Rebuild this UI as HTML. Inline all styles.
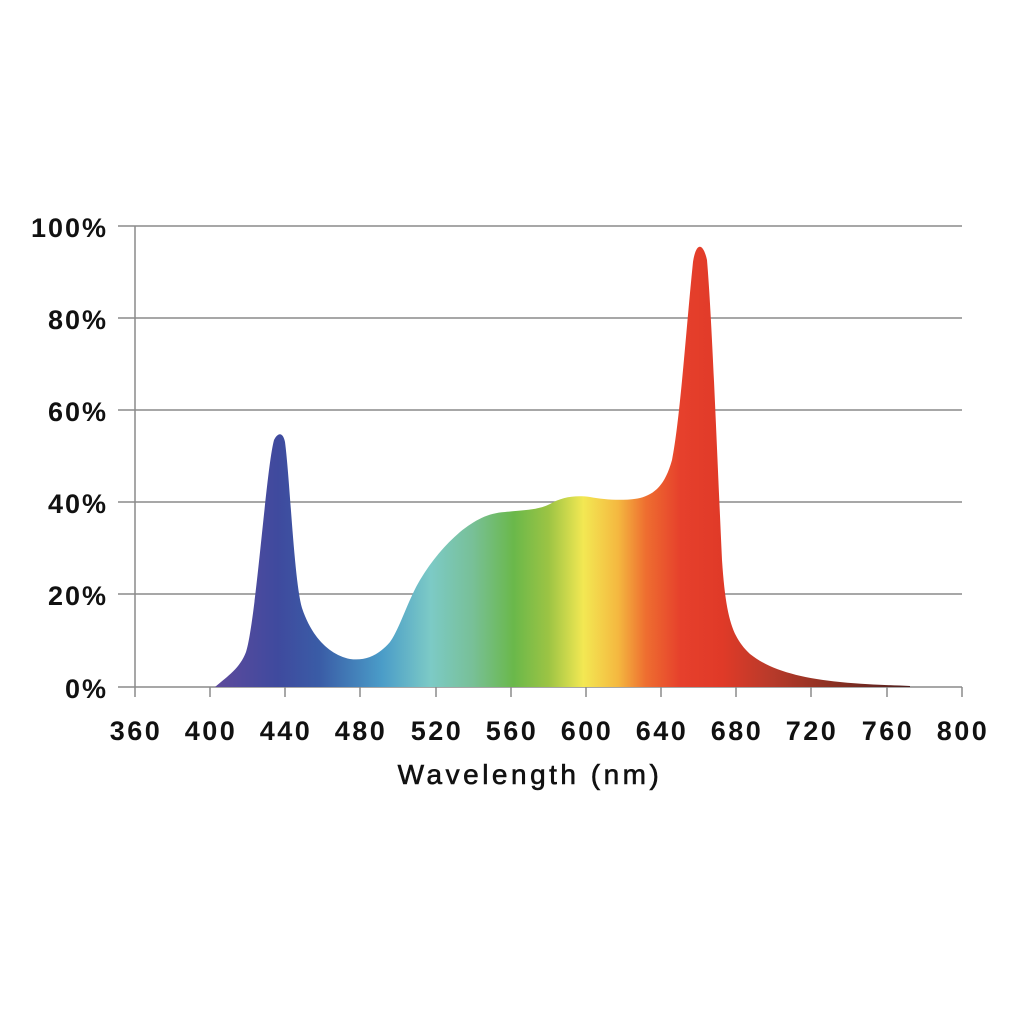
<!DOCTYPE html>
<html><head><meta charset="utf-8"><style>
html,body{margin:0;padding:0;background:#fff;}
svg{display:block;}
text{font-family:"Liberation Sans",Arial,sans-serif;fill:#111;}
</style></head><body>
<svg width="1024" height="1024" viewBox="0 0 1024 1024" xmlns="http://www.w3.org/2000/svg">
<defs>
<linearGradient id="g" gradientUnits="userSpaceOnUse" x1="215" y1="0" x2="910" y2="0">
<stop offset="0" stop-color="#5e4a9c"/>
<stop offset="0.09" stop-color="#3f4a9e"/>
<stop offset="0.15" stop-color="#3a5ca6"/>
<stop offset="0.24" stop-color="#4a9cc8"/>
<stop offset="0.31" stop-color="#7ccac6"/>
<stop offset="0.37" stop-color="#78c098"/>
<stop offset="0.43" stop-color="#6ab84a"/>
<stop offset="0.48" stop-color="#9cc444"/>
<stop offset="0.53" stop-color="#f3e853"/>
<stop offset="0.58" stop-color="#f4b840"/>
<stop offset="0.62" stop-color="#ee6e30"/>
<stop offset="0.67" stop-color="#e6402c"/>
<stop offset="0.73" stop-color="#e03a28"/>
<stop offset="0.80" stop-color="#b83a2a"/>
<stop offset="0.89" stop-color="#8a3022"/>
<stop offset="1" stop-color="#502020"/>
</linearGradient>
</defs>
<g stroke="#8a8a8a" stroke-width="1.5">
<line x1="118" y1="226" x2="962" y2="226"/>
<line x1="118" y1="318" x2="962" y2="318"/>
<line x1="118" y1="410" x2="962" y2="410"/>
<line x1="118" y1="502" x2="962" y2="502"/>
<line x1="118" y1="594" x2="962" y2="594"/>
<line x1="118" y1="687" x2="962" y2="687"/>
<line x1="135" y1="226" x2="135" y2="697"/>
<line x1="210" y1="687" x2="210" y2="697"/>
<line x1="285" y1="687" x2="285" y2="697"/>
<line x1="360" y1="687" x2="360" y2="697"/>
<line x1="436" y1="687" x2="436" y2="697"/>
<line x1="511" y1="687" x2="511" y2="697"/>
<line x1="586" y1="687" x2="586" y2="697"/>
<line x1="661" y1="687" x2="661" y2="697"/>
<line x1="736" y1="687" x2="736" y2="697"/>
<line x1="811" y1="687" x2="811" y2="697"/>
<line x1="887" y1="687" x2="887" y2="697"/>
<line x1="962" y1="687" x2="962" y2="697"/>
</g>
<path fill="url(#g)" d="M215,687 C228,676 240,668 246,652 C256,620 266,470 274,440 C278,432 283,432 285,442 C290,480 294,580 302,608 C312,638 330,655 350,659 C365,661 378,656 390,642 C400,628 408,600 420,580 C432,560 445,545 460,532 C475,520 488,513 505,512 C525,510 538,510 550,504 C562,497 575,495 590,497 C605,500 625,501 640,498 C655,494 665,485 672,460 C680,420 686,330 693,262 C696,242 703,242 707,260 C712,320 716,430 722,560 C726,620 733,638 750,654 C770,670 800,678 840,682 C870,685 890,685 910,686 L910,687 Z"/>
<g font-size="27" font-weight="bold" text-anchor="end" letter-spacing="2">
<text x="108" y="237">100%</text>
<text x="108" y="329">80%</text>
<text x="108" y="421">60%</text>
<text x="108" y="513">40%</text>
<text x="108" y="605">20%</text>
<text x="108" y="698">0%</text>
</g>
<g font-size="27" font-weight="bold" text-anchor="middle" letter-spacing="2.5">
<text x="136" y="740">360</text>
<text x="211" y="740">400</text>
<text x="286" y="740">440</text>
<text x="361" y="740">480</text>
<text x="437" y="740">520</text>
<text x="512" y="740">560</text>
<text x="587" y="740">600</text>
<text x="662" y="740">640</text>
<text x="737" y="740">680</text>
<text x="812" y="740">720</text>
<text x="888" y="740">760</text>
<text x="963" y="740">800</text>
</g>
<text x="530" y="784" font-size="28" text-anchor="middle" letter-spacing="3.5" stroke="#111" stroke-width="0.6">Wavelength (nm)</text>
</svg>
</body></html>
